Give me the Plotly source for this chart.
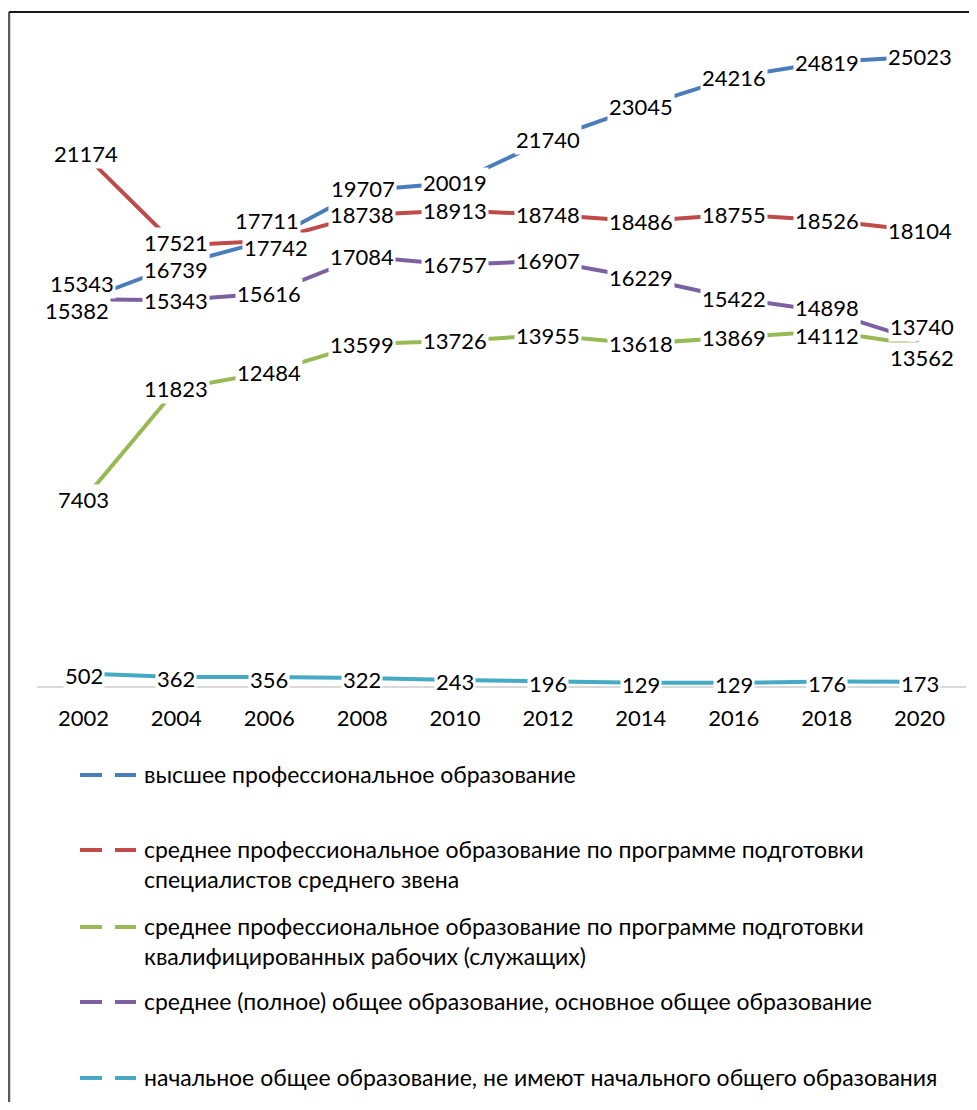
import plotly.graph_objects as go

# ---------------- data ----------------
years = ["2002", "2004", "2006", "2008", "2010", "2012", "2014", "2016", "2018", "2020"]

higher_prof = [15343, 16739, 17742, 19707, 20019, 21740, 23045, 24216, 24819, 25023]
secondary_prof_mid = [21174, 17521, 17711, 18738, 18913, 18748, 18486, 18755, 18526, 18104]
secondary_prof_workers = [7403, 11823, 12484, 13599, 13726, 13955, 13618, 13869, 14112, 13562]
secondary_general = [15382, 15343, 15616, 17084, 16757, 16907, 16229, 15422, 14898, 13740]
primary_general = [502, 362, 356, 322, 243, 196, 129, 129, 176, 173]

series_names = [
    "высшее профессиональное образование",
    "среднее профессиональное образование по программе подготовки\nспециалистов среднего звена",
    "среднее профессиональное образование по программе подготовки\nквалифицированных рабочих (служащих)",
    "среднее (полное) общее образование, основное общее образование",
    "начальное общее образование, не имеют начального общего образования",
]
series_values = [higher_prof, secondary_prof_mid, secondary_prof_workers,
                 secondary_general, primary_general]

# ---------------- styles / layout ----------------
colors = ["#4A7EBB", "#BE4B48", "#98B954", "#7D60A0", "#46AAC5"]
FONT = "Lato"
FS_NUM = 22
FS_LEG = 23
OFF = 8                       # page body margin
W, H = 961, 1094
ML, MR, MT, MB = 29, 3, 22, 416
PW, PH = W - ML - MR, H - MT - MB
YMAX = PH / 0.025142

# label shifts (px) per (series, point): (dx, dy_down)
label_shift = {
    (0, 0): (-1, -17), (0, 1): (0, 4), (0, 2): (7, 8), (0, 3): (1, -2),
    (1, 0): (3, 0), (1, 1): (0, -3), (1, 2): (-2, -20),
    (2, 8): (0, 4), (2, 9): (2, 12),
    (3, 0): (-6, 11), (3, 8): (0, -4), (3, 9): (2, -14),
    (4, 0): (1, 2), (4, 1): (0, 2), (4, 2): (0, 2), (4, 3): (0, 2), (4, 4): (0, 2),
    (4, 5): (0, 2), (4, 6): (0, 2), (4, 7): (0, 2), (4, 8): (0, 2), (4, 9): (0, 2),
}


def px2paper(px, py):
    fx, fy = px - OFF, py - OFF
    return (fx - ML) / PW, (H - MB - fy) / PH


fig = go.Figure()
for name, vals, col in zip(series_names, series_values, colors):
    fig.add_trace(go.Scatter(
        x=years, y=vals, mode="lines", name=name.replace("\n", " "),
        line=dict(color=col, width=4), showlegend=False, hoverinfo="skip"))

annotations = []
for si, vals in enumerate(series_values):
    for pi, v in enumerate(vals):
        dx, dy = label_shift.get((si, pi), (0, 0))
        annotations.append(dict(
            x=pi, y=v, xref="x", yref="y", text=str(v), showarrow=False,
            xshift=dx, yshift=-dy, bgcolor="white", borderpad=1,
            font=dict(family=FONT, size=FS_NUM, color="black")))

# manual legend
legend_rows = [775, 850, 927, 1002, 1078]
shapes = []
for name, col, ry in zip(series_names, colors, legend_rows):
    for x0, x1 in [(80, 102), (115, 136)]:
        a0, b0 = px2paper(x0, ry)
        a1, _ = px2paper(x1, ry)
        shapes.append(dict(type="line", xref="paper", yref="paper",
                           x0=a0, x1=a1, y0=b0, y1=b0,
                           line=dict(color=col, width=4)))
    tx, ty = px2paper(142, ry - 17)
    annotations.append(dict(
        x=tx, y=ty, xref="paper", yref="paper", xanchor="left", yanchor="top",
        align="left", showarrow=False, text=name.replace("\n", "<br>"),
        font=dict(family=FONT, size=FS_LEG, color="black")))

# chart frame (left and top edges)
fx0, fy0 = px2paper(9, 12)
fx1, fy1 = px2paper(W + 40, H + 40)
shapes.append(dict(type="line", xref="paper", yref="paper", x0=fx0, x1=fx0, y0=fy0, y1=fy1,
                   line=dict(color="#5a5a5a", width=2.5)))
shapes.append(dict(type="line", xref="paper", yref="paper", x0=fx0, x1=fx1, y0=fy0, y1=fy0,
                   line=dict(color="#1a1a1a", width=2)))

fig.update_layout(
    width=W, height=H,
    margin=dict(l=ML, r=MR, t=MT, b=MB, pad=0),
    paper_bgcolor="white", plot_bgcolor="white",
    font=dict(family=FONT, size=FS_NUM, color="black"),
    annotations=annotations, shapes=shapes,
    xaxis=dict(type="category", range=[-0.5, 9.5], showgrid=False, zeroline=False,
               showline=True, linecolor="#D9D9D9", linewidth=2,
               ticks="outside", ticklen=12, tickcolor="rgba(0,0,0,0)",
               tickfont=dict(family=FONT, size=FS_NUM, color="black")),
    yaxis=dict(range=[0, YMAX], showgrid=False, zeroline=False, showline=False,
               showticklabels=False, ticks=""),
)

fig.write_html("out.html")
